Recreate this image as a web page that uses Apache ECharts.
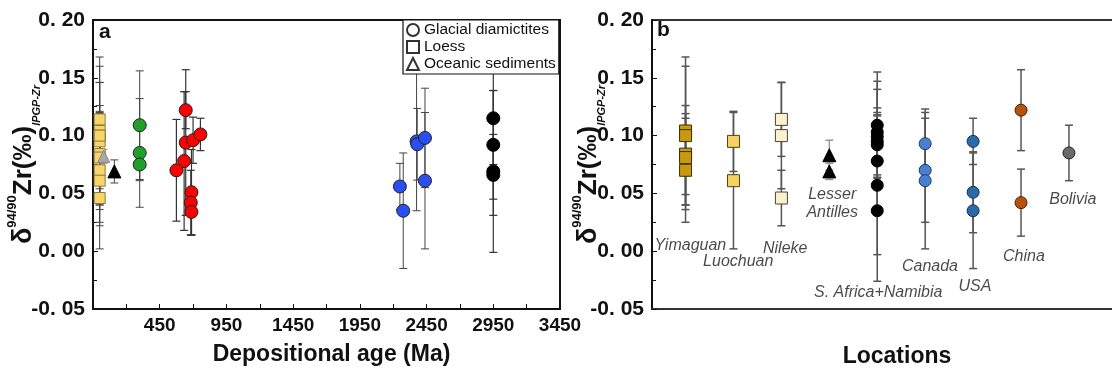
<!DOCTYPE html>
<html><head><meta charset="utf-8">
<script src="https://cdn.jsdelivr.net/npm/echarts@6/dist/echarts.min.js"></script>
<style>html,body{margin:0;padding:0;background:#fff}#c{width:1112px;height:371px}</style>
</head><body><div id="c"></div>
<script>
// ---------- Panel a data (x = depositional age, Ma) ----------
const loessAges = [0, 0, 0, 0, 0, 0, 0, 0, 0, 0];
const loessVals = [0.104, 0.100, 0.084, 0.081, 0.070, 0.095, 0.061, 0.114, 0.100, 0.046];
const loessErrs = [0.064, 0.060, 0.035, 0.045, 0.045, 0.026, 0.059, 0.032, 0.046, 0.024];
const oceanGrayAges = [30];
const oceanGrayVals = [0.082];
const oceanGrayErrs = [0.006];
const oceanBlackAges = [110];
const oceanBlackVals = [0.069];
const oceanBlackErrs = [0.010];
const greenAges = [300, 300, 300];
const greenVals = [0.109, 0.085, 0.075];
const greenErrs = [0.047, 0.047, 0.014];
const redAges = [645, 633, 645, 700, 755, 575, 688, 683, 688];
const redVals = [0.122, 0.078, 0.094, 0.096, 0.101, 0.070, 0.051, 0.042, 0.034];
const redErrs = [0.016, 0.060, 0.063, 0.020, 0.014, 0.044, 0.037, 0.028, 0.020];
const blueAges = [2250, 2275, 2375, 2380, 2438, 2438];
const blueVals = [0.056, 0.035, 0.095, 0.0925, 0.098, 0.061];
const blueErrs = [0.020, 0.050, 0.060, 0.031, 0.043, 0.059];
const blackAges = [2950, 2950, 2950, 2950];
const blackVals = [0.115, 0.092, 0.069, 0.066];
const blackErrs = [0.040, 0.047, 0.070, 0.035];
const xTickLabelsA = ['450', '950', '1450', '1950', '2450', '2950', '3450'];
const yTickLabels = ['-0. 05', '0. 00', '0. 05', '0. 10', '0. 15', '0. 20'];
const legendNames = ['Glacial diamictites', 'Loess', 'Oceanic sediments'];

// ---------- Panel b data (by location) ----------
const locations = ['Yimaguan', 'Luochuan', 'Nileke', 'Lesser\nAntilles', 'S. Africa+Namibia', 'Canada', 'USA', 'China', 'Bolivia'];
const yimaguanVals = [0.104, 0.100, 0.084, 0.081, 0.070];
const yimaguanErrs = [0.064, 0.060, 0.035, 0.045, 0.045];
const luochuanVals = [0.095, 0.061];
const luochuanErrs = [0.026, 0.059];
const nilekeVals = [0.114, 0.100, 0.046];
const nilekeErrs = [0.032, 0.046, 0.024];
const antillesVals = [0.083, 0.069];
const antillesErrs = [0.013, 0.007];
const safricaVals = [0.109, 0.103, 0.099, 0.095, 0.092, 0.078, 0.057, 0.035];
const safricaErrs = [0.046, 0.044, 0.041, 0.029, 0.028, 0.040, 0.060, 0.061];
const canadaVals = [0.093, 0.070, 0.061];
const canadaErrs = [0.030, 0.045, 0.059];
const usaVals = [0.095, 0.051, 0.035];
const usaErrs = [0.020, 0.035, 0.050];
const chinaVals = [0.122, 0.042];
const chinaErrs = [0.035, 0.029];
const boliviaVals = [0.085];
const boliviaErrs = [0.024];

// ---------- layout (label placement in data coordinates of panel b) ----------
const locLabelX = [1.10, 2.10, 3.08, 4.06, 5.02, 6.10, 7.04, 8.06, 9.08];
const locLabelY = [0.0045, -0.009, 0.002, 0.041, -0.036, -0.0137, -0.031, -0.005, 0.045];

const F = 'Arial, "Liberation Sans", Helvetica, sans-serif';

function errSeries(xi, yi, xs, vals, errs, color, width) {
  return {
    type: 'custom', xAxisIndex: xi, yAxisIndex: yi, z: 1, silent: true,
    data: vals.map((v, i) => [xs[i], v - errs[i], v + errs[i]]),
    encode: { x: 0, y: [1, 2] },
    renderItem: function (params, api) {
      const x = api.value(0), lo = api.value(1), hi = api.value(2);
      const p1 = api.coord([x, lo]), p2 = api.coord([x, hi]);
      const w = 4;
      const st = { stroke: color, lineWidth: width };
      return { type: 'group', children: [
        { type: 'line', shape: { x1: p1[0], y1: p1[1], x2: p2[0], y2: p2[1] }, style: st },
        { type: 'line', shape: { x1: p1[0] - w, y1: p1[1], x2: p1[0] + w, y2: p1[1] }, style: st },
        { type: 'line', shape: { x1: p2[0] - w, y1: p2[1], x2: p2[0] + w, y2: p2[1] }, style: st }
      ]};
    }
  };
}
function pts(xi, yi, xs, vals, symbol, size, fill, border) {
  return {
    type: 'scatter', xAxisIndex: xi, yAxisIndex: yi, z: 3, symbol: symbol, symbolSize: size,
    data: vals.map((v, i) => [xs[i], v]), silent: true,
    itemStyle: { color: fill, borderColor: border, borderWidth: 1, opacity: 1 }
  };
}
function rep(x, arr) { return arr.map(() => x); }
function idx(name) { return locations.indexOf(name) + 1; }

const yName = '{d|δ}{sup|94/90}{m|Zr(‰)}{sub|IPGP-Zr}';
const yRich = {
  d: { fontSize: 27, fontWeight: 'bold', fontFamily: F, color: '#111', lineHeight: 28 },
  m: { fontSize: 26, fontWeight: 'bold', fontFamily: F, color: '#111', lineHeight: 28 },
  sup: { fontSize: 13, fontWeight: 'bold', fontFamily: F, color: '#111', lineHeight: 13, padding: [0, 0, 23, 0] },
  sub: { fontSize: 11, fontWeight: 'bold', fontStyle: 'italic', fontFamily: F, color: '#111', lineHeight: 11, padding: [25, 0, 0, 0] }
};
function yAxisCfg(gi, gap) {
  return {
    type: 'value', gridIndex: gi, min: -0.05, max: 0.20, interval: 0.05,
    name: yName, nameLocation: 'middle', nameRotate: 90, nameGap: gap, nameMoveOverlap: false,
    nameTextStyle: { rich: yRich },
    axisLine: { show: true, onZero: false, lineStyle: { color: '#111', width: 2 } },
    axisTick: { show: true, inside: true, length: 5, lineStyle: { color: '#111', width: 1 } },
    minorTick: { show: true, splitNumber: 2, length: 4, lineStyle: { color: '#111', width: 1 } },
    splitLine: { show: false },
    axisLabel: {
      fontFamily: F, fontWeight: 'bold', fontSize: 21, color: '#111', margin: 8,
      formatter: function (v) {
        const k = Math.round((v + 0.05) / 0.05);
        return yTickLabels[k] !== undefined ? yTickLabels[k] : '';
      }
    }
  };
}

const series = [
  // legend dummies
  { type: 'scatter', name: legendNames[0], data: [], xAxisIndex: 0, yAxisIndex: 0, itemStyle: { color: '#fff', borderColor: '#000', borderWidth: 1.2 } },
  { type: 'scatter', name: legendNames[1], data: [], xAxisIndex: 0, yAxisIndex: 0, itemStyle: { color: '#fff', borderColor: '#000', borderWidth: 1.2 } },
  { type: 'scatter', name: legendNames[2], data: [], xAxisIndex: 0, yAxisIndex: 0, itemStyle: { color: '#fff', borderColor: '#000', borderWidth: 1.2 } },

  // panel a error bars
  errSeries(0, 0, loessAges, loessVals, loessErrs, '#444', 1),
  errSeries(0, 0, oceanGrayAges, oceanGrayVals, oceanGrayErrs, '#999', 1),
  errSeries(0, 0, oceanBlackAges, oceanBlackVals, oceanBlackErrs, '#444', 1),
  errSeries(0, 0, greenAges, greenVals, greenErrs, '#444', 1),
  errSeries(0, 0, redAges, redVals, redErrs, '#333', 1.2),
  errSeries(0, 0, blueAges, blueVals, blueErrs, '#444', 1),
  errSeries(0, 0, blackAges, blackVals, blackErrs, '#333', 1.2),
  // panel a points
  pts(0, 0, loessAges, loessVals, 'rect', 11, '#f8d46a', '#8a7a40'),
  pts(0, 0, oceanGrayAges, oceanGrayVals, 'triangle', 12, '#a8a8a8', '#888'),
  pts(0, 0, oceanBlackAges, oceanBlackVals, 'triangle', 13, '#000', '#000'),
  pts(0, 0, greenAges, greenVals, 'circle', 13, '#1fa02a', '#222'),
  pts(0, 0, redAges, redVals, 'circle', 13, '#ff0000', '#222'),
  pts(0, 0, blueAges, blueVals, 'circle', 13, '#2a4ef0', '#222'),
  pts(0, 0, blackAges, blackVals, 'circle', 13, '#000', '#000'),

  // panel b error bars
  errSeries(1, 1, rep(idx('Yimaguan'), yimaguanVals), yimaguanVals, yimaguanErrs, '#555', 1.5),
  errSeries(1, 1, rep(idx('Luochuan'), luochuanVals), luochuanVals, luochuanErrs, '#555', 1.5),
  errSeries(1, 1, rep(idx('Nileke'), nilekeVals), nilekeVals, nilekeErrs, '#555', 1.5),
  errSeries(1, 1, rep(idx('Lesser\nAntilles'), antillesVals), antillesVals, antillesErrs, '#999', 1.5),
  errSeries(1, 1, rep(idx('S. Africa+Namibia'), safricaVals), safricaVals, safricaErrs, '#555', 1.5),
  errSeries(1, 1, rep(idx('Canada'), canadaVals), canadaVals, canadaErrs, '#555', 1.5),
  errSeries(1, 1, rep(idx('USA'), usaVals), usaVals, usaErrs, '#555', 1.5),
  errSeries(1, 1, rep(idx('China'), chinaVals), chinaVals, chinaErrs, '#555', 1.5),
  errSeries(1, 1, rep(idx('Bolivia'), boliviaVals), boliviaVals, boliviaErrs, '#555', 1.5),
  // panel b points
  pts(1, 1, rep(idx('Yimaguan'), yimaguanVals), yimaguanVals, 'rect', 12, '#c8980e', '#3d3000'),
  pts(1, 1, rep(idx('Luochuan'), luochuanVals), luochuanVals, 'rect', 12, '#f8d25c', '#4a4020'),
  pts(1, 1, rep(idx('Nileke'), nilekeVals), nilekeVals, 'rect', 12, '#fdf1cc', '#444'),
  pts(1, 1, rep(idx('Lesser\nAntilles'), antillesVals), antillesVals, 'triangle', 13, '#000', '#000'),
  pts(1, 1, rep(idx('S. Africa+Namibia'), safricaVals), safricaVals, 'circle', 12, '#000', '#000'),
  pts(1, 1, rep(idx('Canada'), canadaVals), canadaVals, 'circle', 12, '#4a7fd0', '#1e3a66'),
  pts(1, 1, rep(idx('USA'), usaVals), usaVals, 'circle', 12, '#2a6aa8', '#13324f'),
  pts(1, 1, rep(idx('China'), chinaVals), chinaVals, 'circle', 12, '#b5520f', '#4a2000'),
  pts(1, 1, rep(idx('Bolivia'), boliviaVals), boliviaVals, 'circle', 12, '#6a6a6a', '#222'),
  // panel b location labels
  {
    type: 'scatter', xAxisIndex: 1, yAxisIndex: 1, symbolSize: 0, silent: true, z: 5,
    data: locations.map((n, i) => ({ name: n, value: [locLabelX[i], locLabelY[i]] })),
    label: {
      show: true, position: 'inside', formatter: '{b}', fontFamily: F, fontStyle: 'italic',
      fontSize: 16, color: '#1a1a1a', lineHeight: 18, align: 'center'
    }
  }
];

const chart = echarts.init(document.getElementById('c'), null, { renderer: 'canvas' });
chart.setOption({
  animation: false,
  backgroundColor: '#fff',
  grid: [
    { left: 93, top: 20, width: 467, height: 289, show: true, borderColor: '#111', borderWidth: 2, backgroundColor: 'transparent', outerBoundsMode: 'none', containLabel: false },
    { left: 652, top: 20, width: 462, height: 289, show: true, borderColor: '#333', borderWidth: 2, backgroundColor: 'transparent', outerBoundsMode: 'none', containLabel: false }
  ],
  xAxis: [
    {
      type: 'value', gridIndex: 0, min: -50, max: 3450, interval: 250,
      name: 'Depositional age (Ma)', nameLocation: 'middle', nameGap: 34, nameMoveOverlap: false,
      nameTextStyle: { fontFamily: F, fontWeight: 'bold', fontSize: 23, color: '#111', padding: [0, 0, 0, 10] },
      axisLine: { show: true, onZero: false, lineStyle: { color: '#111', width: 2 } },
      axisTick: { show: true, inside: true, length: 5, lineStyle: { color: '#111' } },
      splitLine: { show: false },
      axisLabel: {
        fontFamily: F, fontWeight: 'bold', fontSize: 19, color: '#111', margin: 7,
        formatter: function (v) { const s = String(v); return xTickLabelsA.indexOf(s) >= 0 ? s : ''; }
      }
    },
    {
      type: 'value', gridIndex: 1, min: 0.3, max: 9.94,
      name: 'Locations', nameLocation: 'middle', nameGap: 36, nameMoveOverlap: false,
      nameTextStyle: { fontFamily: F, fontWeight: 'bold', fontSize: 23, color: '#111', padding: [0, 0, 0, 28] },
      axisLine: { show: true, onZero: false, lineStyle: { color: '#333', width: 2 } },
      axisTick: { show: false }, axisLabel: { show: false }, splitLine: { show: false }
    }
  ],
  yAxis: [yAxisCfg(0, 55), yAxisCfg(1, 49)],
  legend: {
    show: true, orient: 'vertical', left: 403, top: 20, selectedMode: false,
    data: [
      { name: legendNames[0], icon: 'circle' },
      { name: legendNames[1], icon: 'rect' },
      { name: legendNames[2], icon: 'triangle' }
    ],
    itemWidth: 12, itemHeight: 12, itemGap: 1,
    padding: [2, 3, 2, 3],
    borderColor: '#111', borderWidth: 1.2, backgroundColor: '#fff',
    textStyle: { fontFamily: F, fontSize: 15.5, color: '#111', lineHeight: 15 }
  },
  graphic: [
    { type: 'text', left: 99, top: 22, style: { text: 'a', font: 'bold 21px ' + F, fill: '#111' } },
    { type: 'text', left: 657, top: 20, style: { text: 'b', font: 'bold 21px ' + F, fill: '#111' } }
  ],
  series: series
});
</script></body></html>
